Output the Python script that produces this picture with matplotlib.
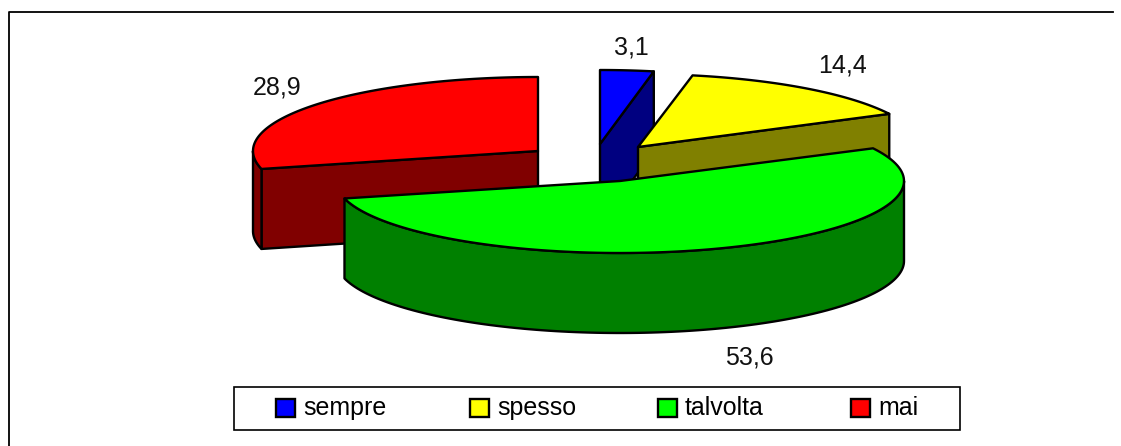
import numpy as np
import matplotlib
matplotlib.use("Agg")
import matplotlib.pyplot as plt
from matplotlib.patches import Polygon, Rectangle

plt.rcParams['font.family'] = ['Liberation Sans', 'DejaVu Sans']

categories = ["sempre", "spesso", "talvolta", "mai"]
values = [3.1, 14.4, 53.6, 28.9]
value_labels = ["3,1", "14,4", "53,6", "28,9"]
top_colors = ["#0000ff", "#ffff00", "#00ff00", "#ff0000"]
side_colors = ["#000080", "#808000", "#008000", "#800000"]

# exploded slice apex (px), ellipse radii
apex = [(600, 144), (638, 147), (620, 181), (538, 151)]
rx = [278, 282, 284, 285]
ry = [74, 73, 72, 74]
depth = 80
label_pos = [(631, 47), (843, 66), (749, 357), (277, 88)]
legend_x = [276, 470, 658, 851]

W, H = 1121, 446
fig = plt.figure(figsize=(W / 100, H / 100), dpi=100)
ax = fig.add_axes([0, 0, 1, 1])
ax.set_xlim(0, W)
ax.set_ylim(H, 0)
ax.axis("off")


def arc(i, a0, a1):
    # angles in degrees, clockwise from the top
    r = np.radians(np.linspace(a0, a1, 120))
    return np.column_stack([apex[i][0] + rx[i] * np.sin(r), apex[i][1] - ry[i] * np.cos(r)])


def face(pts, color, z):
    ax.add_patch(Polygon(pts, closed=True, fc=color, ec="black", lw=1.7, joinstyle="round", zorder=z))


# frame: only top and left edges show
ax.plot([8.5, 8.5, 1113], [446, 11.5, 11.5], color="black", lw=1.3, zorder=1)

starts = np.cumsum([0] + values[:-1]) * 3.6
ends = np.cumsum(values) * 3.6

# painter order, back slices first
for z, i in enumerate([0, 3, 1, 2]):
    base = 10 * (z + 1)
    a0, a1 = starts[i], ends[i]
    ap = np.array(apex[i], dtype=float)
    down = np.array([0, depth])
    # radial walls turned towards the viewer
    if a1 < 180:
        p = arc(i, a1, a1)[0]
        face([ap, p, p + down, ap + down], side_colors[i], base)
    if a0 > 180:
        p = arc(i, a0, a0)[0]
        face([ap, p, p + down, ap + down], side_colors[i], base)
    # outer rim, the part turned towards the viewer
    f0, f1 = max(a0, 90), min(a1, 270)
    if f1 > f0:
        rim = arc(i, f0, f1)
        face(np.vstack([rim, rim[::-1] + down]), side_colors[i], base + 1)
    top = arc(i, a0, a1)
    face(np.vstack([ap, top]), top_colors[i], base + 2)

for (x, y), s in zip(label_pos, value_labels):
    ax.text(x, y, s, fontsize=18, ha="center", va="center", color="#111111", zorder=100)

# legend box
ax.add_patch(Rectangle((234, 387), 726, 43, fc="white", ec="black", lw=1.2, zorder=50))
for x, c, s in zip(legend_x, top_colors, categories):
    ax.add_patch(Rectangle((x, 399), 19, 18, fc=c, ec="black", lw=1.7, zorder=51))
    ax.text(x + 27, 408, s, fontsize=18, ha="left", va="center", color="black", zorder=51)

fig.savefig("out.png", dpi=100)
